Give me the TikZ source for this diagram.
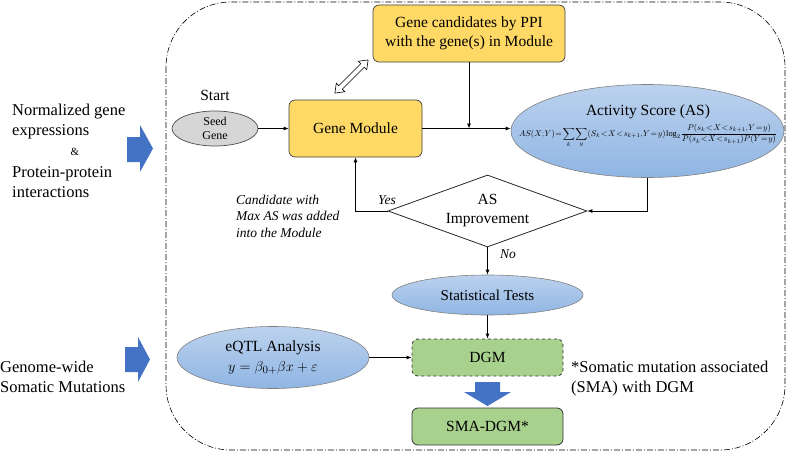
\documentclass[tikz,border=0pt]{standalone}
\usepackage{fontspec}
\setmainfont{Liberation Serif}
\usepackage{amsmath}
\usepackage{graphicx}
\usetikzlibrary{shapes.geometric,arrows.meta}
\definecolor{gold}{HTML}{FFD966}
\definecolor{skytop}{HTML}{BCD2EE}
\definecolor{skybot}{HTML}{8FB5E3}
\definecolor{seedgray}{HTML}{D6D6D6}
\definecolor{leaf}{HTML}{A9D18E}
\definecolor{blockblue}{HTML}{4472C4}
\begin{document}
\begin{tikzpicture}[x=1pt,y=-1pt,
  txt/.style={font=\fontsize{15.5}{18.5}\selectfont, align=center, inner sep=0pt},
  side/.style={font=\fontsize{16.5}{20}\selectfont, align=left, inner sep=0pt, anchor=west},
  lab/.style={font=\fontsize{13.5}{16.5}\selectfont\itshape, align=left, inner sep=0pt},
  ybox/.style={txt, draw=black!75, line width=0.7pt, rounded corners=6pt, fill=gold},
  gbox/.style={txt, draw=black!80, line width=0.8pt, rounded corners=6pt, fill=leaf, minimum width=151pt, minimum height=37pt},
  bell/.style={ellipse, draw=black!50, line width=0.6pt, top color=skytop, bottom color=skybot, inner sep=0pt, align=center},
  arr/.style={-{Latex[length=5pt,width=4pt]}, line width=0.8pt, black},
  blk/.style={fill=blockblue}
]
\useasboundingbox (0,0) rectangle (789,452);
% frame
\draw[line width=0.6pt, dash pattern=on 6pt off 2pt on 1pt off 2pt, rounded corners=65pt]
  (166,2) rectangle (785,450);

% left inputs
\node[side] (in1) at (12,122) {Normalized gene\\expressions};
\node[font=\fontsize{11}{13}\selectfont, inner sep=0pt] (amp) at (75,152) {\&};
\node[side] (in2) at (12,182) {Protein-protein\\interactions};
\fill[blk] (127,137) -- (140,137) -- (140,125) -- (153,148.5) -- (140,172) -- (140,162) -- (127,162) -- cycle;

\node[side] (in3) at (0,377) {Genome-wide\\Somatic Mutations};
\fill[blk] (125,347) -- (138,347) -- (138,337) -- (150,359.5) -- (138,382) -- (138,372) -- (125,372) -- cycle;

% top part
\node[ybox, minimum width=192pt, minimum height=57pt] (cand) at (469,33.5) {Gene candidates by PPI\\with the gene(s) in Module};
\node[ybox, minimum width=133pt, minimum height=57pt] (gm) at (355.5,128.5) {Gene Module};
\node[txt] (start) at (215,95) {Start};
\node[ellipse, draw=black!70, line width=0.7pt, fill=seedgray, minimum width=86pt, minimum height=35pt, inner sep=0pt, align=center, font=\fontsize{12}{14}\selectfont] (seed) at (215,128.5) {Seed\\Gene};

% hollow double arrow
\begin{scope}[shift={(351.5,76.5)}, rotate=45]
\draw[line width=0.6pt, fill=white] (-23.5,0) -- (-15.5,6) -- (-15.5,2.5) -- (15.5,2.5) -- (15.5,6) -- (23.5,0) -- (15.5,-6) -- (15.5,-2.5) -- (-15.5,-2.5) -- (-15.5,-6) -- cycle;
\end{scope}

\node[bell, minimum width=273pt, minimum height=93pt] (as) at (647.5,131) {};
\node[txt] (astitle) at (648,112) {Activity Score (AS)};
\node[inner sep=0pt] (asform) at (648,136) {\resizebox{258pt}{!}{\thickmuskip=1.5mu\medmuskip=0.5mu\thinmuskip=1mu$\displaystyle AS(X;Y)=\sum_{k}\sum_{y}(S_k<X<s_{k+1},Y=y)\log_2\frac{P(s_k<X<s_{k+1},Y=y)}{P(s_k<X<s_{k+1})P(Y=y)}$}};

\node[diamond, draw=black!85, line width=0.8pt, aspect=2.76, minimum width=199pt, minimum height=72pt, inner sep=0pt, align=center, font=\fontsize{15.5}{19}\selectfont] (dia) at (487.5,211) {AS\\Improvement};

\node[bell, minimum width=191pt, minimum height=40pt, font=\fontsize{15}{18}\selectfont] (st) at (487.5,295) {Statistical Tests};
\node[gbox, dashed] (dgm) at (487.5,357.5) {DGM};
\node[gbox] (sma) at (487.5,426.5) {SMA-DGM*};
\node[bell, minimum width=192pt, minimum height=62pt, font=\fontsize{15.5}{20}\selectfont] (eqtl) at (273,357.5) {eQTL Analysis\\$y=\beta_{0+}\beta x+\varepsilon$};

\fill[blk] (475,382) -- (500,382) -- (500,392) -- (511,392) -- (487.5,406) -- (464,392) -- (475,392) -- cycle;

\node[side] (note) at (571,379) {*Somatic mutation associated\\(SMA) with DGM};

% labels
\node[lab] (yes) at (387,200) {Yes};
\node[lab] (no) at (508,254) {No};
\node[lab, anchor=west] (cnote) at (236,216) {Candidate with\\Max AS was added\\into the Module};

% connectors
\coordinate (j) at (cand.south |- gm.east);
\draw[arr] (seed) -- (gm);
\draw[arr] (gm.east) -- (gm.east -| as.west);
\draw[arr] (cand.south) -- (j);
\draw[arr] (as.south) |- (dia.east);
\draw[arr] (dia.west) -| (gm.south);
\draw[arr] (dia.south) -- (st.north);
\draw[arr] (st.south) -- (dgm.north);
\draw[arr] (eqtl.east) -- (dgm.west);
\end{tikzpicture}
\end{document}
